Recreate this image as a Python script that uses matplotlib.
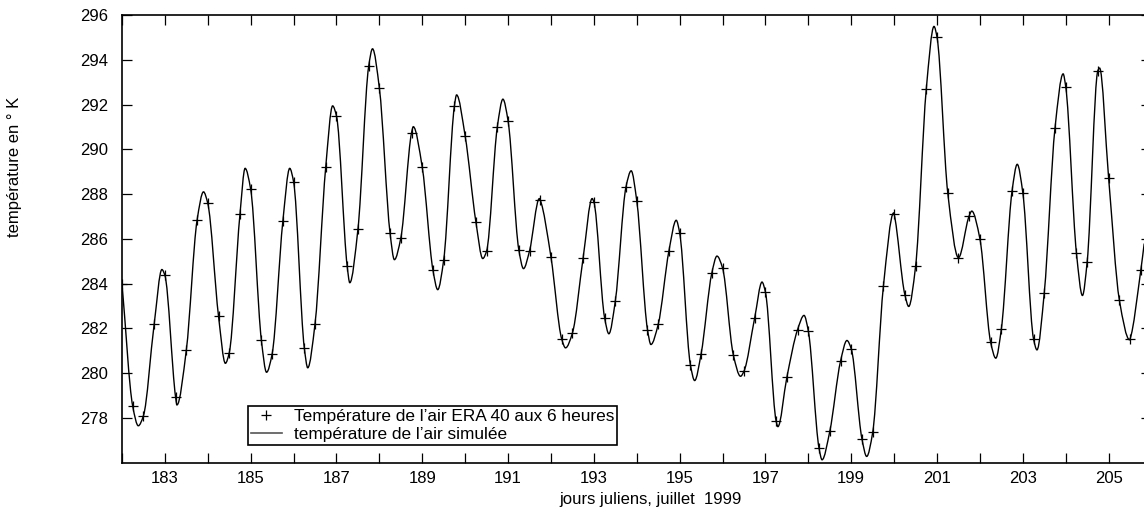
import numpy as np
import matplotlib
matplotlib.use('Agg')
import matplotlib.pyplot as plt
from matplotlib.ticker import MultipleLocator, FixedLocator
from matplotlib.path import Path
from matplotlib.patches import PathPatch
from matplotlib.lines import Line2D

plt.rcParams['font.family'] = ['Liberation Sans', 'DejaVu Sans']

### ERA 40 air temperature, every 6 hours (jours juliens)
era_t = np.arange(182.0, 206.0, 0.25)
era_v = [284.00, 278.52, 278.10, 282.19, 284.37, 278.92, 281.04, 286.83,
         287.58, 282.55, 280.91, 287.10, 288.21, 281.46, 280.86, 286.79,
         288.55, 281.13, 282.21, 289.22, 291.49, 284.77, 286.43, 293.70,
         292.73, 286.24, 286.04, 290.74, 289.19, 284.59, 285.07, 291.95,
         290.59, 286.76, 285.46, 291.01, 291.27, 285.52, 285.46, 287.73,
         285.19, 281.53, 281.79, 285.15, 287.65, 282.48, 283.22, 288.33,
         287.70, 281.95, 282.18, 285.46, 286.27, 280.38, 280.86, 284.47,
         284.70, 280.83, 280.09, 282.48, 283.62, 277.85, 279.82, 281.95,
         281.88, 276.64, 277.40, 280.53, 281.09, 277.06, 277.35, 283.88,
         287.10, 283.51, 284.77, 292.70, 295.01, 288.06, 285.16, 287.03,
         286.00, 281.38, 281.98, 288.15, 288.06, 281.53, 283.59, 290.94,
         292.80, 285.37, 284.97, 293.52, 288.73, 283.28, 281.53, 284.59]

### simulated air temperature: peaks / troughs
ext_t = [182.38, 182.93, 183.28, 183.90, 184.41, 184.87, 185.37, 185.91,
         186.33, 186.91, 187.31, 187.84, 188.35, 188.79, 189.36, 189.80,
         190.41, 190.88, 191.36, 191.73, 192.34, 192.96, 193.35, 193.87,
         194.33, 194.92, 195.35, 195.87, 196.42, 196.92, 197.29, 197.90,
         198.32, 198.90, 199.36, 199.99, 200.34, 200.93, 201.81,
         202.37, 202.87, 203.33, 203.94, 204.39, 204.79, 205.49, 205.83]
ext_v = [277.65, 284.63, 278.58, 288.10, 280.44, 289.15, 280.04, 289.15,
         280.24, 291.94, 284.04, 294.49, 285.07, 291.01, 283.73, 292.43,
         285.12, 292.24, 284.67, 287.80, 281.13, 287.80, 281.76, 289.04,
         281.28, 286.83, 279.67, 285.23, 279.86, 284.07, 277.61, 282.58,
         276.13, 281.46, 276.28, 287.16, 282.98, 295.49, 287.24,
         280.67, 289.33, 281.04, 293.37, 283.47, 293.63, 281.49, 285.79]

x_ticks_lab = list(range(183, 206, 2))
y_ticks_lab = list(range(278, 297, 2))

lab_era = 'Température de l\u2019air ERA 40 aux 6 heures'
lab_sim = 'température de l\u2019air simulée'

# simulated series = ERA points + read extrema, in time order
sim_t = np.concatenate([era_t, ext_t])
sim_v = np.concatenate([era_v, ext_v])
order = np.argsort(sim_t)
sim_t = sim_t[order]
sim_v = sim_v[order]

def smooth_path(x, y):
    # monotone cubic (bezier) path through the points, drawn by matplotlib
    h = np.diff(x)
    dl = np.diff(y) / h
    d = np.zeros_like(y)
    d[0] = dl[0]
    d[-1] = dl[-1]
    for k in range(1, len(x)-1):
        if dl[k-1]*dl[k] > 0:
            w1 = 2*h[k] + h[k-1]
            w2 = h[k] + 2*h[k-1]
            d[k] = (w1+w2) / (w1/dl[k-1] + w2/dl[k])
    verts = [(x[0], y[0])]
    codes = [Path.MOVETO]
    for k in range(len(x)-1):
        verts += [(x[k]+h[k]/3, y[k]+d[k]*h[k]/3),
                  (x[k+1]-h[k]/3, y[k+1]-d[k+1]*h[k]/3),
                  (x[k+1], y[k+1])]
        codes += [Path.CURVE4]*3
    return Path(verts, codes)

fig = plt.figure(figsize=(11.44, 5.22), dpi=100)
W, H = 1144, 522
ax = fig.add_axes([122/W, 1-462.7/H, (1151.5-122)/W, (462.7-15)/H])

ax.add_patch(PathPatch(smooth_path(sim_t, sim_v), fill=False, edgecolor='black', lw=1.0))
ax.plot(era_t, era_v, linestyle='none', marker='+', ms=6.5, mew=0.9, color='black')

ax.set_xlim(182, 206)
ax.set_ylim(276, 296)
ax.xaxis.set_major_locator(FixedLocator(x_ticks_lab))
ax.xaxis.set_minor_locator(MultipleLocator(1))
ax.yaxis.set_major_locator(FixedLocator(y_ticks_lab))

ax.tick_params(which='both', direction='in', length=7, width=0.9, top=True, right=True)
ax.tick_params(axis='x', labelsize=12, pad=6)
ax.tick_params(axis='y', labelsize=12, pad=10)
for s in ax.spines.values():
    s.set_linewidth(1.2)

ax.set_xlabel('jours juliens, juillet  1999', fontsize=12)
ax.xaxis.set_label_coords((651-122)/(1151.5-122), -0.065)
ax.set_ylabel('température en ° K', fontsize=12)
ax.yaxis.set_label_coords((22-122)/(1151.5-122), (462.7-167)/447.7)

h_era = Line2D([], [], linestyle='none', marker='+', ms=6.5, mew=0.9, color='black')
h_sim = Line2D([], [], color='#555555', lw=1.2)
leg = ax.legend([h_era, h_sim], [lab_era, lab_sim], loc='lower left',
                bbox_to_anchor=((248-122)/1029.5, (462.7-445)/447.7),
                borderaxespad=0, fancybox=False, edgecolor='black', framealpha=1,
                fontsize=12.4, handlelength=1.8, handletextpad=0.75, borderpad=0.15,
                labelspacing=0.2)
leg.get_frame().set_linewidth(1.2)

fig.savefig('out.png', dpi=100)
